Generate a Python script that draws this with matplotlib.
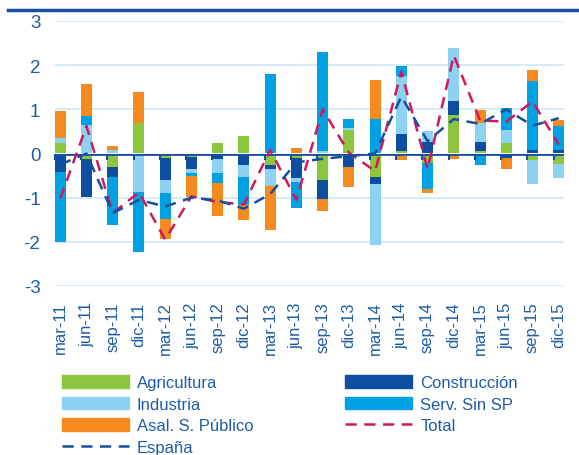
import numpy as np
import matplotlib
matplotlib.use("Agg")
import matplotlib.pyplot as plt
from matplotlib.patches import Patch
from matplotlib.lines import Line2D

plt.rcParams['font.family'] = ['Liberation Sans', 'DejaVu Sans']
plt.rcParams['axes.unicode_minus'] = False

quarters = ["mar-11", "jun-11", "sep-11", "dic-11", "mar-12", "jun-12", "sep-12", "dic-12",
            "mar-13", "jun-13", "sep-13", "dic-13", "mar-14", "jun-14", "sep-14", "dic-14",
            "mar-15", "jun-15", "sep-15", "dic-15"]

agricultura = [0.24, -0.12, -0.31, 0.69, -0.10, -0.08, 0.24, 0.39, -0.26, -0.10,
               -0.59, 0.54, -0.53, 0.05, -0.21, 0.88, 0.05, 0.24, -0.14, -0.23]
construccion = [-0.42, -0.86, -0.23, 0.0, -0.51, -0.27, -0.12, -0.25, -0.08, -0.46,
                -0.45, -0.30, -0.17, 0.40, 0.26, 0.32, 0.20, -0.10, 0.08, 0.09]
industria = [0.12, 0.65, 0.07, -0.87, -0.29, -0.09, -0.33, -0.29, -0.40, -0.09,
             0.05, 0.04, -1.38, 1.31, 0.26, 1.20, 0.44, 0.30, -0.55, -0.32]
serv_sin_sp = [-1.58, 0.19, -1.09, -1.35, -0.59, -0.08, -0.21, -0.62, 1.80, -0.59,
               2.24, 0.21, 0.77, 0.23, -0.59, 0.0, -0.25, 0.50, 1.57, 0.53]
asal_publico = [0.61, 0.73, 0.09, 0.70, -0.44, -0.47, -0.75, -0.34, -0.99, 0.13,
                -0.27, -0.45, 0.90, -0.15, -0.09, -0.12, 0.29, -0.25, 0.23, 0.14]
total = [-1.02, 0.62, -1.35, -0.88, -1.95, -0.97, -1.10, -1.15, 0.08, -1.05,
         1.00, 0.02, -0.40, 1.85, -0.35, 2.22, 0.75, 0.72, 1.18, 0.20]
espana = [-0.25, 0.0, -1.35, -1.05, -1.20, -1.00, -1.06, -1.25, -0.92, -0.20,
          -0.12, -0.06, 0.0, 1.29, 0.28, 0.78, 0.67, 1.00, 0.63, 0.80]

txt = '#1F5CA8'
series = [
    ("Agricultura", agricultura, '#8CC63F'),
    ("Construcción", construccion, '#0D4EA0'),
    ("Industria", industria, '#8DD2F2'),
    ("Serv. Sin SP", serv_sin_sp, '#00A1E2'),
    ("Asal. S. Público", asal_publico, '#F58B1F'),
]

fig = plt.figure(figsize=(5.79, 4.56), dpi=100)
ax = fig.add_axes([55/579, 1-287/456, (564-55)/579, (287-22)/456])

x = np.arange(len(quarters))
w = 0.42
pos = np.zeros(len(x))
neg = np.zeros(len(x))
for name, vals, col in series:
    v = np.array(vals)
    bottom = np.where(v >= 0, pos, neg)
    ax.bar(x, v, width=w, bottom=bottom, color=col, zorder=2)
    pos = pos + np.where(v > 0, v, 0)
    neg = neg + np.where(v < 0, v, 0)

ax.axhline(0, color='#1550A0', lw=2, zorder=3)
ax.plot(x, total, color='#D0185F', lw=1.8, dashes=(4.5, 3), zorder=4)
ax.plot(x, espana, color='#1550A0', lw=1.8, dashes=(4.5, 3), zorder=4)

# small ticks hanging below the zero line
sec = ax.secondary_xaxis(0.5)
sec.xaxis.set_ticks_position('bottom')
sec.set_xticks(x - 0.2)
sec.set_xticklabels([])
sec.tick_params(direction='out', length=4, width=1.5, color='#1550A0',
                labelbottom=False, labeltop=False)
for s in sec.spines.values():
    s.set_visible(False)
sec.set_zorder(3)

ax.set_xlim(-0.2, 19.2)
ax.set_ylim(-3, 3)
ax.set_yticks(range(-3, 4))
ax.grid(axis='y', color='#CDE9F7', lw=1.2, zorder=0)
ax.set_axisbelow(True)
for s in ax.spines.values():
    s.set_visible(False)
ax.set_xticks(x)
ax.set_xticklabels(quarters, rotation=90, fontsize=12, color=txt)
ax.tick_params(axis='x', length=0, pad=11)
ax.tick_params(axis='y', length=0, pad=10.5, labelsize=13.5, labelcolor=txt)

# title rule at the top
fig.add_artist(Line2D([8/579, 1], [1-11/456, 1-11/456], color='#1550A0', lw=2.5))

handles = [
    Patch(color='#8CC63F'), Patch(color='#8DD2F2'), Patch(color='#F58B1F'),
    Line2D([], [], color='#1550A0', lw=1.8, dashes=(4.5, 3)),
    Patch(color='#0D4EA0'), Patch(color='#00A1E2'),
    Line2D([], [], color='#D0185F', lw=1.8, dashes=(4.5, 3)),
]
labels = ["Agricultura", "Industria", "Asal. S. Público", "España",
          "Construcción", "Serv. Sin SP", "Total"]
fig.legend(handles, labels, loc='upper left', bbox_to_anchor=(62/579, 1-376/456),
           ncol=2, frameon=False, handlelength=4, handleheight=0.8,
           columnspacing=5.5, labelspacing=0.38, fontsize=12, labelcolor=txt,
           borderaxespad=0, borderpad=0, handletextpad=0.5)

plt.savefig("out.png", dpi=100)
